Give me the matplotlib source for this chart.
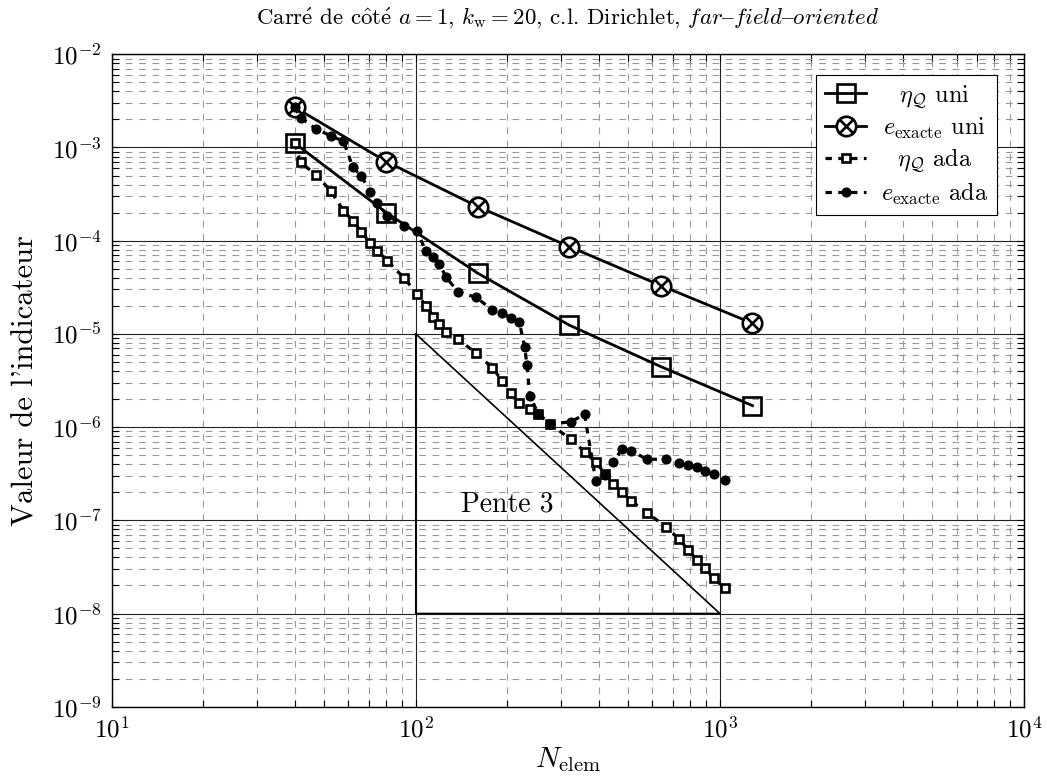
import numpy as np
import matplotlib
matplotlib.use("Agg")
import matplotlib.pyplot as plt
from matplotlib.path import Path

plt.rcParams["font.family"] = ["cmr10", "DejaVu Serif"]
plt.rcParams["mathtext.fontset"] = "cm"
plt.rcParams["axes.formatter.use_mathtext"] = True

# uniform refinement
n_uni = [40, 80, 160, 320, 640, 1280]
eta_uni = [1.11e-3, 2.0e-4, 4.47e-5, 1.24e-5, 4.45e-6, 1.70e-6]
err_uni = [2.70e-3, 7.05e-4, 2.32e-4, 8.63e-5, 3.3e-5, 1.3e-5]

# adaptive refinement
n_eta_ada = [40, 41.8, 47.0, 52.6, 57.8, 62.1, 66.1, 70.8, 74.8, 80.7, 91.7, 101,
             107.8, 114.3, 119.6, 125.9, 138.1, 157.9, 178.5, 192.6, 205.3, 218.8,
             237.8, 253.1, 276.5, 323.5, 358.8, 391, 420, 446.7, 476, 510, 575,
             664, 735, 788, 840, 895, 953, 1043]
eta_ada = [1.11e-3, 6.93e-4, 5.07e-4, 3.41e-4, 2.10e-4, 1.64e-4, 1.25e-4, 9.5e-5,
           7.8e-5, 6.05e-5, 3.95e-5, 2.68e-5, 2.01e-5, 1.53e-5, 1.28e-5, 1.06e-5,
           8.75e-6, 6.19e-6, 4.34e-6, 3.13e-6, 2.34e-6, 1.83e-6, 1.55e-6, 1.38e-6,
           1.08e-6, 7.39e-7, 5.44e-7, 4.19e-7, 3.14e-7, 2.45e-7, 2.03e-7, 1.62e-7,
           1.21e-7, 8.54e-8, 6.25e-8, 4.80e-8, 3.75e-8, 3.05e-8, 2.39e-8, 1.86e-8]

n_err_ada = [40, 42, 47, 52.6, 57.8, 62.1, 66.1, 70.8, 74.8, 80.7, 91.7, 101,
             107.8, 114.3, 119.6, 125.9, 138, 158, 178.5, 192.6, 205.3, 218.8,
             228, 232, 237, 253.1, 276.5, 323.5, 358.8, 391, 420, 446.7, 476, 510,
             575, 664, 735, 788, 840, 895, 953, 1043]
err_ada = [2.70e-3, 2.06e-3, 1.58e-3, 1.33e-3, 1.17e-3, 6.14e-4, 4.98e-4, 3.36e-4,
           2.52e-4, 1.85e-4, 1.45e-4, 1.27e-4, 7.76e-5, 6.74e-5, 5.62e-5, 4.04e-5,
           2.8e-5, 2.47e-5, 1.80e-5, 1.69e-5, 1.47e-5, 1.35e-5, 7.3e-6, 4.63e-6,
           2.15e-6, 1.38e-6, 1.08e-6, 1.14e-6, 1.37e-6, 2.62e-7, 3.1e-7, 4.26e-7,
           5.78e-7, 5.59e-7, 4.52e-7, 4.52e-7, 4.15e-7, 3.92e-7, 3.70e-7, 3.40e-7,
           3.14e-7, 2.70e-7]

# slope triangle
tri_n = [100, 100, 1000, 100]
tri_v = [1e-5, 1e-8, 1e-8, 1e-5]

x_ticks = [1e1, 1e2, 1e3, 1e4]
y_ticks = [1e-9, 1e-8, 1e-7, 1e-6, 1e-5, 1e-4, 1e-3, 1e-2]

s = 0.72
otimes = Path.make_compound_path(
    Path.unit_circle(),
    Path([(-s, -s), (s, s)]),
    Path([(-s, s), (s, -s)]),
)

fig = plt.figure(figsize=(10.47, 7.81), dpi=100)
ax = fig.add_axes([0.1067, 0.0951, 0.8713, 0.8354])

ax.plot(n_uni, eta_uni, "-", color="k", lw=2.0, marker="s", ms=13.5,
        mfc="none", mew=1.9, label=r"$\eta_\mathcal{Q}$ uni")
ax.plot(n_uni, err_uni, "-", color="k", lw=2.0, marker=otimes, ms=14,
        mfc="white", mew=1.9, label=r"$e_\mathrm{exacte}$ uni")
ax.plot(n_eta_ada, eta_ada, color="k", lw=2.3, ls=(0, (2, 2)), marker="s", ms=6,
        mfc="white", mew=1.9, label=r"$\eta_\mathcal{Q}$ ada")
ax.plot(n_err_ada, err_ada, color="k", lw=2.3, ls=(0, (2, 2)), marker="o", ms=7.3,
        mfc="k", mew=0, label=r"$e_\mathrm{exacte}$ ada")

ax.plot(tri_n, tri_v, color="k", lw=1.2)
ax.text(200, 1.5e-7, "Pente 3", ha="center", va="center", fontsize=20)

ax.set_xscale("log")
ax.set_yscale("log")
ax.set_xticks(x_ticks)
ax.set_yticks(y_ticks)
ax.set_xlim(10, 1e4)
ax.set_ylim(1e-9, 1e-2)

ax.set_axisbelow(True)
ax.grid(which="major", ls="-", color="#222222", lw=0.8)
ax.grid(which="minor", ls=(0, (6, 6)), color="#999999", lw=0.8)
ax.tick_params(which="both", direction="in", top=True, right=True, labelsize=18, pad=7)
ax.tick_params(which="major", length=5, width=0.8)
ax.tick_params(which="minor", length=5, width=0.8)
for sp in ax.spines.values():
    sp.set_linewidth(1.0)

ax.set_xlabel(r"$N_\mathrm{elem}$", fontsize=21, labelpad=2)
ax.set_ylabel("Valeur de l'indicateur", fontsize=22, labelpad=9)
ax.set_title(r"Carr$\acute{\mathrm{e}}$ de c$\hat{\mathrm{o}}$t$\acute{\mathrm{e}}$ "
             r"$a=1$, $k_\mathrm{w}=20$, c.l. Dirichlet, "
             r"$\mathit{far}$$\mathrm{–}$$\mathit{field}$$\mathrm{–}$$\mathit{oriented}$",
             fontsize=16.5, pad=22)

leg = ax.legend(loc="upper right", bbox_to_anchor=(0.970, 0.969), borderaxespad=0,
                fontsize=17.5, numpoints=1, handlelength=1.7, fancybox=False,
                framealpha=1, edgecolor="k", borderpad=0.35, labelspacing=0.25,
                handletextpad=0.6)
leg.get_frame().set_linewidth(0.8)

# centre the legend labels in their column, like the original
fig.canvas.draw()
rend = fig.canvas.get_renderer()
widths = [t.get_window_extent(rend).width for t in leg.get_texts()]
wmax = max(widths)
for t, w in zip(leg.get_texts(), widths):
    x0, y0 = t.get_position()
    t.set_position((x0 + (wmax - w) / 2, y0))

fig.savefig("out.png", dpi=100)
